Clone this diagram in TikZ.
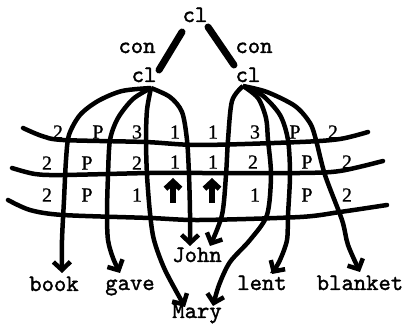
\documentclass[tikz,border=0pt]{standalone}
\usepackage{fontspec}
\setmonofont{lmmono10-regular.otf}[FakeBold=1.5]
\newfontfamily\labfont{Liberation Serif}[FakeBold=0.8]
\usetikzlibrary{arrows.meta}
\begin{document}
\begin{tikzpicture}[x=1pt,y=-1pt,
  word/.style={font=\ttfamily\fontsize{23.5}{23.5}\selectfont, anchor=base, inner sep=0pt},
  lab/.style={font=\labfont\fontsize{20}{20}\selectfont, inner sep=0pt},
  gridline/.style={line width=4.5pt, line cap=round},
  arc/.style={line width=4.5pt, -{Straight Barb[length=8pt,width=17pt]}},
  uparc/.style={line width=5.5pt, -{Straight Barb[length=7pt,width=15pt]}},
  link/.style={line width=7pt, line cap=round}]
\fill[white] (0,0) rectangle (408,326);
\useasboundingbox (0,0) rectangle (408,326);

% words
\node[word] (top) at (195,22) {cl};
\node[word] (conL) at (137,53) {con};
\node[word] (conR) at (254,53) {con};
\node[word] (clL) at (144,82) {cl};
\node[word] (clR) at (248,82) {cl};
\node[word] (book) at (54,291) {book};
\node[word] (gave) at (130,290) {gave};
\node[word] (john) at (197,262) {John};
\node[word] (mary) at (197,318) {Mary};
\node[word] (lent) at (262,290) {lent};
\node[word] (blanket) at (360,290) {blanket};

% links
\coordinate (tA) at (182,32); \coordinate (tB) at (159,70);
\coordinate (tC) at (208,27); \coordinate (tD) at (234,65);
\draw[link] (tA) -- (tB);
\draw[link] (tC) -- (tD);

% grid lines
\draw[gridline] plot[smooth] coordinates {(23,128) (42,136) (63,140) (145,142) (200,145) (300,142) (340,139) (368,132)};
\draw[gridline] plot[smooth] coordinates {(12,168) (35,174) (63,175) (150,173) (200,173) (300,173) (340,171) (383,161)};
\draw[gridline] plot[smooth] coordinates {(8,200) (30,210) (63,215) (150,218) (200,220) (300,217) (340,212) (387,205)};

% origins and tips
\coordinate (lo) at (151,88);
\coordinate (ro) at (243,86);
\coordinate (bookT) at (62,273);
\coordinate (gaveT) at (120,273);
\coordinate (maryL) at (185,307);
\coordinate (maryR) at (213,306);
\coordinate (johnL) at (190,246);
\coordinate (johnR) at (210,246);
\coordinate (lentT) at (272,274);
\coordinate (blankT) at (360,272);

\draw[arc] plot[smooth] coordinates {(lo) (122,91) (98,101) (80,115) (69,135) (66,160) (64,200) (62,240) (bookT)};
\draw[arc] plot[smooth] coordinates {(lo) (133,99) (118,118) (110,140) (108,175) (107,213) (108,240) (113,258) (gaveT)};
\draw[arc] plot[smooth] coordinates {(lo) (147,110) (146,140) (147,175) (150,213) (154,240) (165,270) (maryL)};
\draw[arc] plot[smooth] coordinates {(lo) (170,97) (182,112) (187,140) (189,175) (190,213) (johnL)};
\draw[arc] plot[smooth] coordinates {(ro) (232,101) (228,140) (226,175) (222,215) (johnR)};
\draw[arc] plot[smooth] coordinates {(ro) (258,98) (266,118) (268,140) (271,175) (267,215) (250,240) (230,262) (219,285) (maryR)};
\draw[arc] plot[smooth] coordinates {(ro) (262,95) (280,115) (288,140) (290,175) (288,215) (287,240) (280,260) (lentT)};
\draw[arc] plot[smooth] coordinates {(ro) (267,92) (295,106) (310,123) (316,140) (325,175) (342,220) (348,245) (blankT)};

% small up arrows
\coordinate (uaL0) at (173,203); \coordinate (uaL1) at (173,178);
\coordinate (uaR0) at (212,203); \coordinate (uaR1) at (212,178);
\draw[uparc] (uaL0) -- (uaL1);
\draw[uparc] (uaR0) -- (uaR1);

% labels row 1
\node[lab] (a1) at (58,132) {2};
\node[lab] (a2) at (98,132) {P};
\node[lab] (a3) at (137,132) {3};
\node[lab] (a4) at (175,132) {1};
\node[lab] (a5) at (213,132) {1};
\node[lab] (a6) at (255,132) {3};
\node[lab] (a7) at (295,132) {P};
\node[lab] (a8) at (333,132) {2};
% row 2
\node[lab] (b1) at (47,163) {2};
\node[lab] (b2) at (87,163) {P};
\node[lab] (b3) at (137,163) {2};
\node[lab] (b4) at (175,162) {1};
\node[lab] (b5) at (213,162) {1};
\node[lab] (b6) at (253,162) {2};
\node[lab] (b7) at (307,162) {P};
\node[lab] (b8) at (347,162) {2};
% row 3
\node[lab] (c1) at (47,195) {2};
\node[lab] (c2) at (87,195) {P};
\node[lab] (c3) at (137,195) {1};
\node[lab] (c4) at (255,195) {1};
\node[lab] (c5) at (307,195) {P};
\node[lab] (c6) at (347,195) {2};
\end{tikzpicture}
\end{document}
